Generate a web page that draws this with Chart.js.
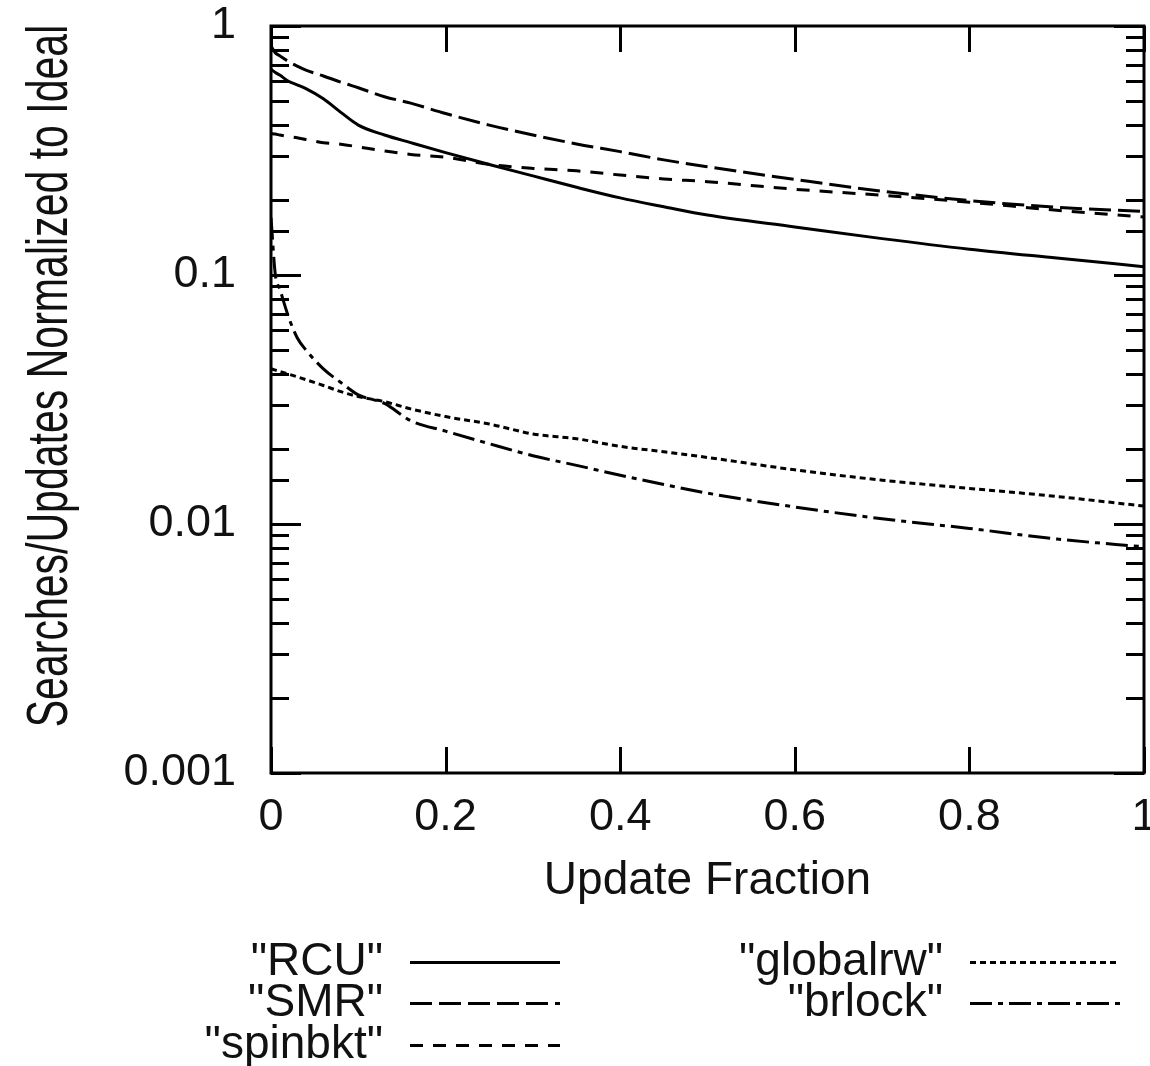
<!DOCTYPE html>
<html>
<head>
<meta charset="utf-8">
<script src="https://cdn.jsdelivr.net/npm/chart.js@4.4.1/dist/chart.umd.min.js"></script>
<style>
  html, body { margin: 0; padding: 0; background: #fff; }
  canvas { display: block; }
</style>
</head>
<body>
<canvas id="chart" width="1150" height="1066"></canvas>
<script>
// values (log y axis)
const updateFraction = [0, 0.005, 0.01, 0.02, 0.03, 0.04, 0.06, 0.08, 0.1, 0.13, 0.16, 0.2, 0.25, 0.3, 0.35, 0.4, 0.45, 0.5, 0.6, 0.7, 0.8, 0.9, 1.0];
const rcu      = [0.67, 0.65, 0.635, 0.60, 0.58, 0.56, 0.51, 0.45, 0.40, 0.365, 0.34, 0.31, 0.278, 0.25, 0.225, 0.204, 0.188, 0.174, 0.156, 0.14, 0.127, 0.117, 0.108];
const smr      = [0.83, 0.78, 0.76, 0.72, 0.69, 0.665, 0.63, 0.595, 0.565, 0.52, 0.49, 0.445, 0.40, 0.365, 0.336, 0.313, 0.29, 0.272, 0.242, 0.217, 0.199, 0.187, 0.18];
const spinbkt  = [0.37, 0.368, 0.365, 0.36, 0.356, 0.35, 0.34, 0.335, 0.327, 0.315, 0.305, 0.297, 0.278, 0.268, 0.262, 0.252, 0.243, 0.237, 0.221, 0.209, 0.196, 0.182, 0.171];
const globalrw = [0.042, 0.0415, 0.041, 0.040, 0.039, 0.038, 0.036, 0.034, 0.0325, 0.031, 0.029, 0.027, 0.0252, 0.023, 0.022, 0.0205, 0.0195, 0.0185, 0.0165, 0.015, 0.0139, 0.0129, 0.0118];
const brlock   = [0.17, 0.10, 0.088, 0.068, 0.056, 0.050, 0.042, 0.037, 0.033, 0.0305, 0.026, 0.0236, 0.021, 0.0188, 0.0172, 0.0157, 0.0144, 0.0133, 0.0117, 0.0105, 0.0096, 0.0087, 0.0081];

const seriesNames = ['"RCU"', '"SMR"', '"spinbkt"', '"globalrw"', '"brlock"'];
const yLabelTicks = [1, 0.1, 0.01, 0.001];
const xTickStep = 0.2;

const FONT = '"Liberation Sans", Arial, Helvetica, sans-serif';

const toPoints = vals => vals.map((v, i) => ({ x: updateFraction[i], y: v }));

const makeSet = (label, vals, dash) => ({
    label: label,
    data: toPoints(vals),
    borderColor: '#000',
    borderWidth: 3,
    borderDash: dash,
    pointRadius: 0,
    fill: false,
    cubicInterpolationMode: 'monotone'
});

const isDecade = v => Math.abs(Math.log10(v) - Math.round(Math.log10(v))) < 1e-6;

// white page, frame and inward gnuplot style ticks
const framePlugin = {
    id: 'frame',
    beforeDraw(chart) {
        const ctx = chart.ctx;
        ctx.save();
        ctx.fillStyle = '#fff';
        ctx.fillRect(0, 0, chart.width, chart.height);
        ctx.restore();
    },
    afterDatasetsDraw(chart) {
        const { ctx, chartArea: a, scales } = chart;
        ctx.save();
        ctx.strokeStyle = '#000';
        ctx.lineWidth = 3;
        ctx.beginPath();
        scales.y.ticks.forEach(t => {
            const py = Math.round(scales.y.getPixelForValue(t.value)) + 0.5;
            const len = isDecade(t.value) ? 30 : 18;
            ctx.moveTo(a.left, py); ctx.lineTo(a.left + len, py);
            ctx.moveTo(a.right, py); ctx.lineTo(a.right - len, py);
        });
        scales.x.ticks.forEach(t => {
            const px = Math.round(scales.x.getPixelForValue(t.value)) + 0.5;
            ctx.moveTo(px, a.top); ctx.lineTo(px, a.top + 26);
            ctx.moveTo(px, a.bottom); ctx.lineTo(px, a.bottom - 26);
        });
        ctx.stroke();
        ctx.strokeRect(a.left, a.top, a.right - a.left, a.bottom - a.top);
        ctx.restore();
    }
};

// rotated, condensed y title as in the reference
const yTitlePlugin = {
    id: 'yTitle',
    afterDraw(chart) {
        const ctx = chart.ctx;
        ctx.save();
        ctx.translate(67, 376);
        ctx.rotate(-Math.PI / 2);
        ctx.scale(0.72, 1);
        ctx.font = '57px ' + FONT;
        ctx.fillStyle = '#111';
        ctx.textAlign = 'center';
        ctx.textBaseline = 'alphabetic';
        ctx.fillText('Searches/Updates Normalized to Ideal', 0, 0);
        ctx.restore();
    }
};

// gnuplot key: right aligned text followed by a line sample
const keySlots = [
    { right: 383, x0: 410, x1: 560, y: 962 },
    { right: 383, x0: 410, x1: 560, y: 1003 },
    { right: 383, x0: 410, x1: 560, y: 1045 },
    { right: 943, x0: 970, x1: 1120, y: 962 },
    { right: 943, x0: 970, x1: 1120, y: 1003 }
];

const keyPlugin = {
    id: 'gnuKey',
    afterDraw(chart) {
        const ctx = chart.ctx;
        chart.data.datasets.forEach((ds, i) => {
            const s = keySlots[i];
            ctx.save();
            ctx.font = '46px ' + FONT;
            ctx.fillStyle = '#111';
            ctx.textAlign = 'right';
            ctx.textBaseline = 'middle';
            ctx.fillText(ds.label, s.right, s.y);
            ctx.strokeStyle = '#000';
            ctx.lineWidth = 3;
            ctx.setLineDash(ds.borderDash);
            ctx.beginPath();
            ctx.moveTo(s.x0, s.y + 0.5);
            ctx.lineTo(s.x1, s.y + 0.5);
            ctx.stroke();
            ctx.restore();
        });
    }
};

new Chart(document.getElementById('chart').getContext('2d'), {
    type: 'line',
    data: {
        datasets: [
            makeSet(seriesNames[0], rcu, []),
            makeSet(seriesNames[1], smr, [22, 7]),
            makeSet(seriesNames[2], spinbkt, [13, 10]),
            makeSet(seriesNames[3], globalrw, [6, 4]),
            makeSet(seriesNames[4], brlock, [22, 6, 5, 6])
        ]
    },
    options: {
        responsive: false,
        animation: false,
        layout: { padding: { left: 0, top: 26, right: 6, bottom: 153 } },
        plugins: {
            legend: { display: false },
            tooltip: { enabled: false }
        },
        scales: {
            x: {
                type: 'linear',
                min: 0,
                max: 1,
                grid: { display: false, drawTicks: false },
                border: { display: false },
                ticks: {
                    stepSize: xTickStep,
                    padding: 18,
                    color: '#111',
                    font: { family: FONT, size: 45 },
                    maxRotation: 0,
                    callback: v => String(Number(v.toFixed(1)))
                },
                title: {
                    display: true,
                    text: 'Update Fraction',
                    color: '#111',
                    font: { family: FONT, size: 46 },
                    padding: { top: 0, bottom: 4 }
                },
                afterFit(scale) {
                    scale.height = 140;
                    scale.paddingLeft = 0;
                    scale.paddingRight = 0;
                }
            },
            y: {
                type: 'logarithmic',
                min: 0.001,
                max: 1,
                grid: { display: false, drawTicks: false },
                border: { display: false },
                ticks: {
                    padding: 35,
                    color: '#111',
                    font: { family: FONT, size: 45, lineHeight: 1 },
                    autoSkip: false,
                    callback: v => yLabelTicks.some(t => Math.abs(t - v) < 1e-9) ? String(v) : ''
                },
                afterFit(scale) {
                    scale.width = 271;
                    scale.paddingTop = 0;
                    scale.paddingBottom = 0;
                }
            }
        }
    },
    plugins: [framePlugin, yTitlePlugin, keyPlugin]
});
</script>
</body>
</html>
